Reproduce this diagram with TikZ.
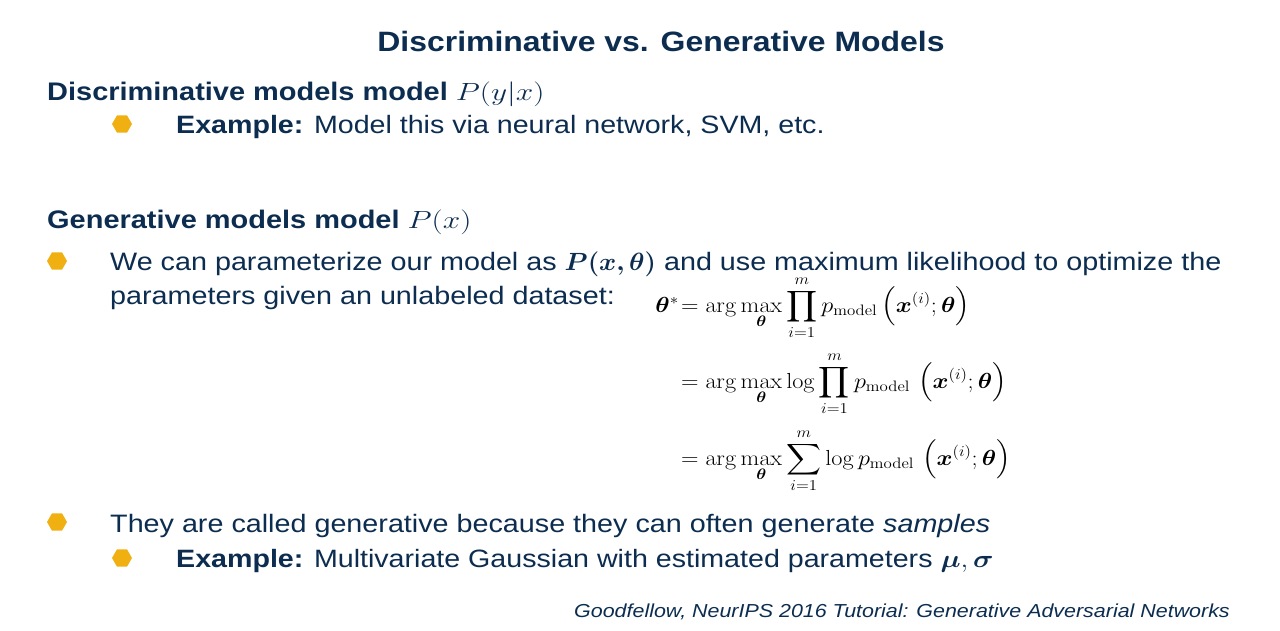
\documentclass[tikz,border=0pt]{standalone}
\usepackage[no-math]{fontspec}
\setmainfont{Liberation Sans}[FakeStretch=1.14]
\usepackage{amsmath,bm}
\usepackage{graphicx}
\usetikzlibrary{shapes.geometric}
\definecolor{navy}{RGB}{12,45,80}
\definecolor{gold}{RGB}{240,176,18}
\newcommand\xs[1]{\scalebox{1.14}[1]{#1}}
\newcommand\xb[1]{\scalebox{1.05}[1]{#1}}
\newcommand\xf[1]{\scalebox{1.17}[1.05]{#1}}
\newcommand\xh[1]{\scalebox{1.26}[1]{#1}}
\tikzset{
  hexb/.style={regular polygon, regular polygon sides=6, fill=gold, draw=none, minimum size=20pt, inner sep=0pt},
  txt/.style={anchor=base west, inner sep=0pt, text=navy},
  head/.style={txt, font=\bfseries\fontsize{25.4}{30}\selectfont},
  lvone/.style={txt, font=\fontsize{25.2}{30}\selectfont},
  lvtwo/.style={txt, font=\fontsize{25.1}{30}\selectfont},
  formula/.style={inner sep=0pt, text=black, font=\fontsize{20.74}{25}\selectfont},
}
\begin{document}
\begin{tikzpicture}[x=1pt,y=-1pt]
\useasboundingbox[fill=white] (0,0) rectangle (1280,630);
\node[anchor=base, inner sep=0pt, text=navy, font=\bfseries\fontsize{28}{34}\selectfont] (title) at (661,51) {Discriminative vs. Generative Models};

\node[head] (h1) at (47,100) {Discriminative models model \xh{$P(y|x)$}};
\node[hexb] (b1) at (122,124) {};
\node[lvtwo] (t1) at (176,133) {\textbf{Example:} Model this via neural network, SVM, etc.};

\node[head] (h2) at (47,228) {Generative models model \xh{$P(x)$}};
\node[hexb] (b2) at (57,261) {};
\node[lvone] (t2) at (110,270) {We can parameterize our model as \xb{$\bm{P(x,\theta)}$} and use maximum likelihood to optimize the};
\node[lvone] (t2b) at (110,304) {parameters given an unlabeled dataset:};

\node[formula, anchor=base east] (f0) at (679,312) {\xf{$\bm{\theta}^*$}};
\node[formula, anchor=base west] (f1) at (681,312) {\xf{$\displaystyle =\arg\max_{\bm{\theta}}\prod_{i=1}^{m} p_{\mathrm{model}}\left(\bm{x}^{(i)};\bm{\theta}\right)$}};
\node[formula, anchor=base west] (f2) at (681,388) {\xf{$\displaystyle =\arg\max_{\bm{\theta}}\log\prod_{i=1}^{m} p_{\mathrm{model}}\,\left(\bm{x}^{(i)};\bm{\theta}\right)$}};
\node[formula, anchor=base west] (f3) at (681,465) {\xf{$\displaystyle =\arg\max_{\bm{\theta}}\sum_{i=1}^{m}\log p_{\mathrm{model}}\,\left(\bm{x}^{(i)};\bm{\theta}\right)$}};

\node[hexb] (b3) at (57,522) {};
\node[lvone] (t3) at (110,532) {They are called generative because they can often generate \textit{samples}};
\node[hexb] (b4) at (122,558) {};
\node[lvtwo] (t4) at (176,567) {\textbf{Example:} Multivariate Gaussian with estimated parameters \xs{$\bm{\mu},\bm{\sigma}$}};

\node[anchor=base east, inner sep=0pt, text=navy, font=\itshape\fontsize{18.8}{23}\selectfont] (cite) at (1230,617) {Goodfellow, NeurIPS 2016 Tutorial: Generative Adversarial Networks};
\end{tikzpicture}
\end{document}
